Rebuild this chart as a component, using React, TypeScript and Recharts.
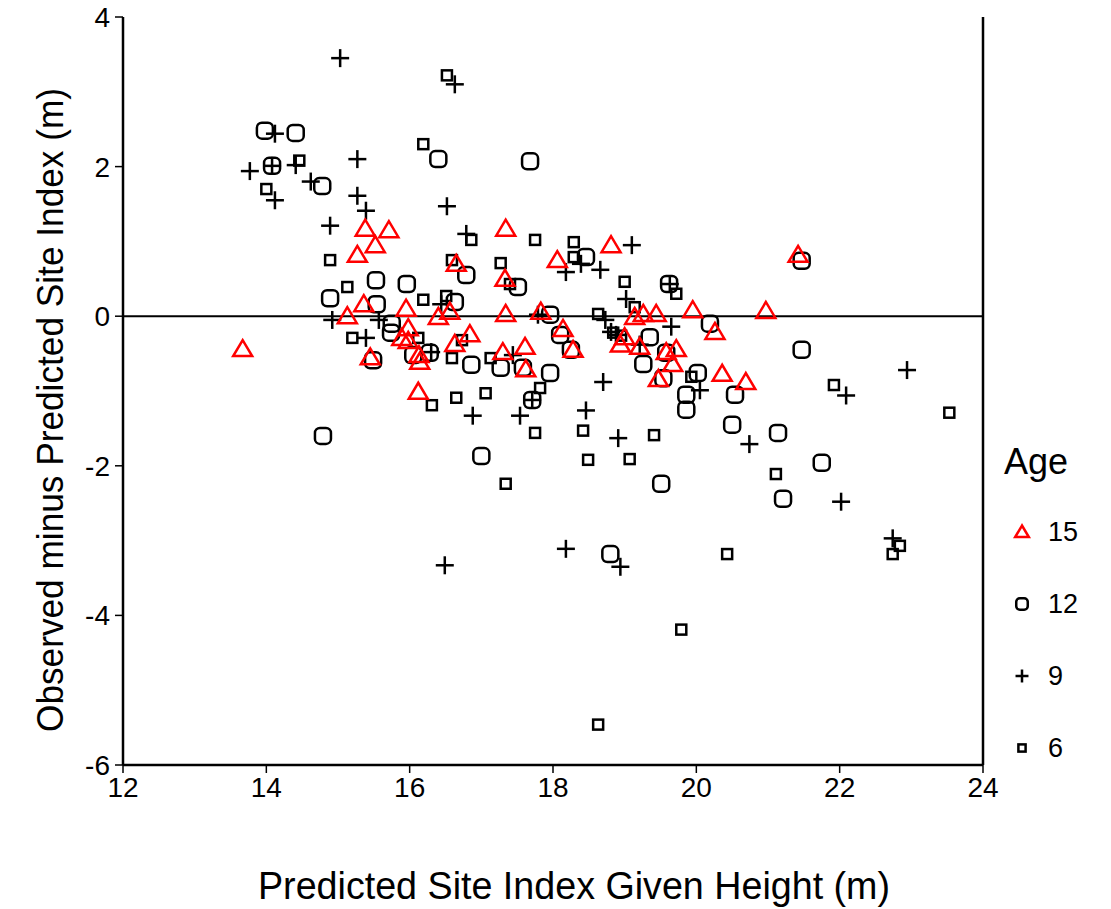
import React from 'react';
import { ScatterChart, Scatter, XAxis, YAxis, ReferenceLine, Legend } from 'recharts';

// Age 15 (red triangles): [predicted SI, observed - predicted]
const age15: [number, number][] = [
  [13.67, -0.44], [15.13, 0.0], [15.27, 0.82], [15.38, 1.17], [15.52, 0.95], [15.71, 1.15],
  [15.36, 0.16], [15.45, -0.55], [15.95, 0.1], [15.98, -0.16], [15.89, -0.29], [15.98, -0.33],
  [16.12, -1.01], [16.13, -0.52], [16.14, -0.61], [16.65, 0.7], [16.4, -0.01], [16.56, 0.06],
  [16.63, -0.37], [16.84, -0.24], [17.33, 0.5], [17.34, 1.17], [17.34, 0.03], [17.3, -0.48],
  [17.61, -0.41], [17.62, -0.71], [17.83, 0.06], [18.06, 0.75], [18.14, -0.17], [18.28, -0.45],
  [18.81, 0.95], [18.94, -0.38], [19.0, -0.28], [19.14, -0.01], [19.26, 0.03], [19.44, 0.03],
  [19.21, -0.41], [19.47, -0.84], [19.58, -0.48], [19.72, -0.44], [19.67, -0.64], [19.95, 0.08],
  [20.26, -0.21], [20.36, -0.77], [20.69, -0.88], [20.97, 0.07], [21.42, 0.82],
];

// Age 12 (large rounded squares)
const age12: [number, number][] = [
  [13.98, 2.48], [14.41, 2.45], [14.08, 2.01], [14.78, 1.74], [16.4, 2.1], [17.68, 2.07],
  [18.46, 0.79], [21.47, 0.74], [15.53, 0.48], [15.96, 0.43], [16.79, 0.55], [14.89, 0.24],
  [15.54, 0.16], [16.63, 0.19], [17.51, 0.39], [19.62, 0.43], [15.75, -0.1], [15.74, -0.22],
  [16.05, -0.52], [15.49, -0.59], [16.28, -0.49], [16.86, -0.65], [17.27, -0.69], [17.58, -0.69],
  [17.96, 0.02], [18.1, -0.25], [18.25, -0.45], [17.96, -0.76], [17.71, -1.12], [17.0, -1.87],
  [19.51, -2.24], [19.35, -0.28], [19.58, -0.49], [19.26, -0.64], [19.54, -0.83], [19.86, -1.05],
  [19.86, -1.25], [20.19, -0.1], [21.47, -0.45], [20.54, -1.05], [20.5, -1.45], [21.14, -1.56],
  [21.75, -1.96], [21.21, -2.44], [18.8, -3.18], [14.79, -1.6], [20.02, -0.76],
];

// Age 9 (plus signs)
const age9: [number, number][] = [
  [15.03, 3.45], [13.77, 1.94], [14.12, 2.44], [14.08, 2.01], [14.41, 2.02], [14.62, 1.8],
  [14.12, 1.55], [15.27, 2.1], [15.27, 1.61], [15.39, 1.41], [14.89, 1.21], [14.92, -0.05],
  [15.57, -0.05], [15.39, -0.29], [16.63, 3.1], [16.52, 1.47], [16.79, 1.1], [16.44, 0.16],
  [16.3, -0.48], [16.88, -1.33], [17.54, -1.33], [17.44, -0.52], [17.71, -1.12], [17.79, 0.02],
  [18.18, 0.59], [18.39, 0.7], [18.66, 0.62], [19.1, 0.95], [19.02, 0.23], [18.73, -0.05],
  [18.81, -0.21], [18.88, -0.25], [19.63, 0.43], [19.65, -0.14], [19.21, -0.38], [18.7, -0.88],
  [18.46, -1.26], [18.91, -1.63], [20.05, -0.99], [22.94, -0.72], [22.09, -1.06], [20.74, -1.71],
  [22.02, -2.48], [16.49, -3.33], [18.18, -3.11], [18.94, -3.35], [22.74, -2.97],
];

// Age 6 (small squares)
const age6: [number, number][] = [
  [14.46, 2.08], [14.0, 1.7], [14.89, 0.75], [15.13, 0.39], [15.2, -0.29], [16.19, 2.3],
  [16.52, 3.22], [16.86, 1.02], [17.75, 1.02], [18.29, 0.99], [18.29, 0.79], [16.59, 0.75],
  [17.27, 0.71], [16.19, 0.22], [16.51, 0.27], [17.4, 0.43], [19.0, 0.46], [19.14, 0.12],
  [18.63, 0.03], [19.72, 0.3], [16.73, -0.32], [16.12, -0.29], [16.59, -0.56], [17.13, -0.56],
  [17.82, -0.96], [16.65, -1.09], [17.06, -1.03], [16.31, -1.19], [17.75, -1.56], [18.42, -1.53],
  [19.07, -1.91], [18.49, -1.92], [17.34, -2.24], [19.41, -1.59], [19.93, -0.81], [18.84, -0.22],
  [18.95, -0.26], [21.92, -0.92], [23.53, -1.29], [21.11, -2.11], [19.79, -4.19], [18.63, -5.46],
  [20.43, -3.18], [22.74, -3.18], [22.84, -3.07],
];

const xTicks = [12, 14, 16, 18, 20, 22, 24];
const yTicks = [-6, -4, -2, 0, 2, 4];
const ageLabels = ['15', '12', '9', '6'];

const toData = (arr: [number, number][]) => arr.map(([x, y]) => ({ x, y }));

const FONT = '"Liberation Sans", Arial, sans-serif';
const SW = 2.5;

const Tri = ({ cx, cy, s = 1 }: any) => (
  <polygon
    points={`${cx},${cy - 9 * s} ${cx - 9.5 * s},${cy + 7 * s} ${cx + 9.5 * s},${cy + 7 * s}`}
    fill="none" stroke="#ff0000" strokeWidth={SW} strokeLinejoin="miter"
  />
);
const Circ = ({ cx, cy, s = 1 }: any) => (
  <rect x={cx - 8 * s} y={cy - 8 * s} width={16 * s} height={16 * s} rx={5 * s}
    fill="none" stroke="#000" strokeWidth={SW} />
);
const Plus = ({ cx, cy, s = 1 }: any) => (
  <g stroke="#000" strokeWidth={SW}>
    <line x1={cx - 9 * s} y1={cy} x2={cx + 9 * s} y2={cy} />
    <line x1={cx} y1={cy - 9 * s} x2={cx} y2={cy + 9 * s} />
  </g>
);
const Sq = ({ cx, cy, s = 1 }: any) => (
  <rect x={cx - 5 * s} y={cy - 5 * s} width={10 * s} height={10 * s}
    fill="none" stroke="#000" strokeWidth={SW} />
);

const LegendContent = () => {
  const icons = [Tri, Circ, Plus, Sq];
  return (
    <div style={{ fontFamily: FONT, color: '#000' }}>
      <div style={{ fontSize: 36, height: 56, lineHeight: '44px' }}>Age</div>
      {ageLabels.map((lab, i) => {
        const Icon = icons[i];
        return (
          <div key={lab} style={{ display: 'flex', alignItems: 'center', height: 72 }}>
            <svg width={36} height={24} style={{ overflow: 'visible' }}>
              <Icon cx={18} cy={12} s={0.72} />
            </svg>
            <span style={{ fontSize: 27, marginLeft: 8 }}>{lab}</span>
          </div>
        );
      })}
    </div>
  );
};

const YTitle = () => (
  <text x={50} y={410} transform="rotate(-90 50 410)" textAnchor="middle" dominantBaseline="central"
    fontFamily={FONT} fontSize={37} fill="#000" textLength={644} lengthAdjust="spacingAndGlyphs">
    Observed minus Predicted Site Index (m)
  </text>
);

const XTitle = () => (
  <text x={574} y={886} textAnchor="middle" dominantBaseline="central"
    fontFamily={FONT} fontSize={38} fill="#000" textLength={632} lengthAdjust="spacingAndGlyphs">
    Predicted Site Index Given Height (m)
  </text>
);

export default function App() {
  return (
    <div style={{ position: 'absolute', left: 0, top: 0, width: 1111, height: 909, background: '#fff' }}>
      <ScatterChart width={1111} height={909} margin={{ top: 17, right: 28, bottom: 0, left: 0 }}>
        <XAxis type="number" dataKey="x" domain={[12, 24]} ticks={xTicks} allowDataOverflow
          height={144} axisLine={{ stroke: '#000', strokeWidth: SW }} tickLine={{ stroke: '#000', strokeWidth: 1.5 }}
          tickSize={8} tickMargin={4}
          tick={{ fill: '#000', fontSize: 28, fontFamily: FONT }}
          label={{ content: () => <XTitle /> }} />
        <YAxis type="number" dataKey="y" domain={[-6, 4]} ticks={yTicks} allowDataOverflow
          width={123} axisLine={{ stroke: '#000', strokeWidth: SW }} tickLine={{ stroke: '#000', strokeWidth: 1.5 }}
          tickSize={8} tickMargin={5}
          tick={{ fill: '#000', fontSize: 28, fontFamily: FONT }}
          label={{ content: () => <YTitle /> }} />
        <ReferenceLine y={0} stroke="#000" strokeWidth={2} />
        <ReferenceLine x={24} stroke="#000" strokeWidth={SW} />
        <Scatter data={toData(age6)} isAnimationActive={false} shape={(p: any) => <Sq cx={p.cx} cy={p.cy} />} />
        <Scatter data={toData(age9)} isAnimationActive={false} shape={(p: any) => <Plus cx={p.cx} cy={p.cy} />} />
        <Scatter data={toData(age12)} isAnimationActive={false} shape={(p: any) => <Circ cx={p.cx} cy={p.cy} />} />
        <Scatter data={toData(age15)} isAnimationActive={false} shape={(p: any) => <Tri cx={p.cx} cy={p.cy} />} />
        <Legend content={<LegendContent />} layout="vertical" align="right" verticalAlign="top"
          wrapperStyle={{ position: 'absolute', left: 1004, top: 440, width: 100 }} />
      </ScatterChart>
    </div>
  );
}
